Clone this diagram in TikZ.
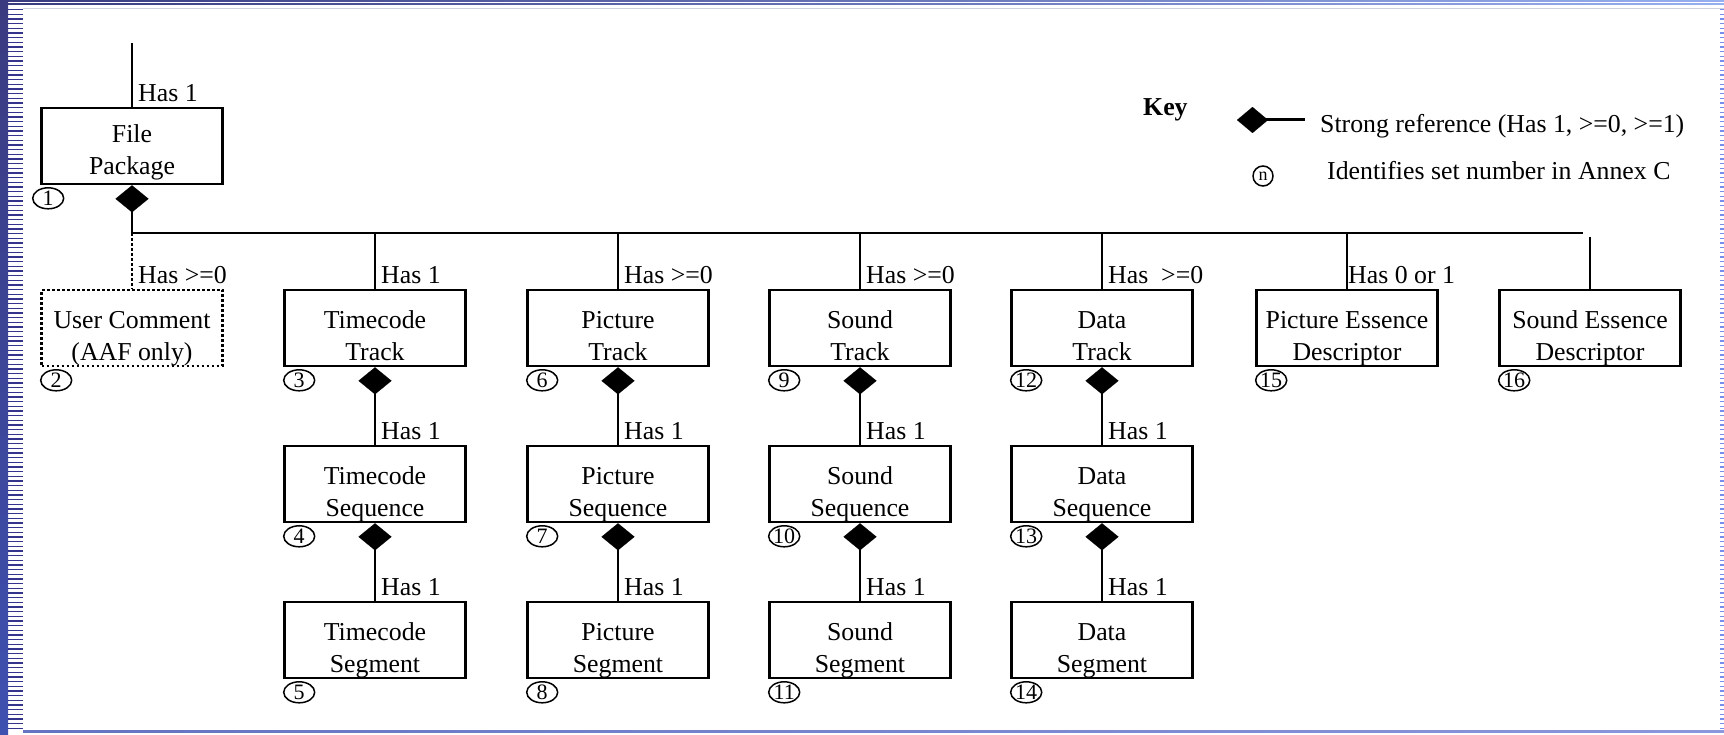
\documentclass[tikz,border=0pt]{standalone}
\usepackage{fontspec}
\setmainfont{Liberation Serif}
\usetikzlibrary{shapes.geometric,arrows.meta}
\definecolor{navy}{RGB}{58,58,128}
\definecolor{barbot}{RGB}{62,80,176}
\definecolor{stripe}{RGB}{52,52,140}
\definecolor{lightb}{RGB}{150,175,240}
\definecolor{dashb}{RGB}{120,140,235}
\definecolor{bottoml}{RGB}{140,150,220}
\definecolor{greyl}{RGB}{205,210,225}
\begin{document}
\begin{tikzpicture}[x=1pt,y=-1pt,
  every node/.style={font=\fontsize{25.8}{31}\selectfont},
  box/.style={draw,line width=2.6pt,minimum width=181pt,minimum height=76pt,inner sep=0pt},
  ubox/.style={box,dash pattern=on 2.6pt off 2.4pt},
  btxt/.style={align=center,inner sep=0pt,text depth=0pt,font=\fontsize{25.8}{32}\selectfont},
  num/.style={draw,ellipse,line width=1.5pt,minimum width=31pt,minimum height=21pt,inner sep=0pt,font=\fontsize{22}{22}\selectfont},
  keynum/.style={draw,circle,line width=1.5pt,minimum size=20pt,inner sep=0pt,font=\fontsize{18}{18}\selectfont},
  lab/.style={anchor=base west,inner sep=0pt},
  conn/.style={line width=2.6pt},
  strong/.style={conn,{Diamond[length=27pt,width=33pt,line width=0.1pt]}-},
]
\useasboundingbox (0,0) rectangle (1724,735);
\fill[white] (0,0) rectangle (1724,735);
% decorative frame
\shade[top color=navy,bottom color=barbot] (0,0) rectangle (8,735);
\foreach \i in {0,...,154} \fill[stripe] (8,{9+4.667*\i}) rectangle (23,{10.2+4.667*\i});
\foreach \i in {0,...,154} \fill[dashb] (1720,{9+4.667*\i}) rectangle (1724,{10.2+4.667*\i});
\shade[left color=navy,right color=lightb] (8,0.6) rectangle (1724,2);
\shade[left color=navy,right color=lightb] (8,3.6) rectangle (1724,5);
\fill[greyl] (23,8.5) rectangle (1724,9.5);
\shade[left color=barbot!80,right color=bottoml] (23,730.3) rectangle (1724,732);

% boxes
\node[box] (fp) at (132,146) {};
\node[ubox] (uc) at (132,328) {};
\node[box] (tt) at (375,328) {};
\node[box] (ts) at (375,484) {};
\node[box] (tg) at (375,640) {};
\node[box] (pt) at (618,328) {};
\node[box] (ps) at (618,484) {};
\node[box] (pg) at (618,640) {};
\node[box] (st) at (860,328) {};
\node[box] (ss) at (860,484) {};
\node[box] (sg) at (860,640) {};
\node[box] (dt) at (1102,328) {};
\node[box] (ds) at (1102,484) {};
\node[box] (dg) at (1102,640) {};
\node[box] (pe) at (1347,328) {};
\node[box] (se) at (1590,328) {};

% box texts
\node[btxt] (fp-t) at ([yshift=-4pt]fp.center) {File\\Package};
\node[btxt] (uc-t) at ([yshift=-8pt]uc.center) {User Comment\\(AAF only)};
\node[btxt] (tt-t) at ([yshift=-8pt]tt.center) {Timecode\\Track};
\node[btxt] (ts-t) at ([yshift=-8pt]ts.center) {Timecode\\Sequence};
\node[btxt] (tg-t) at ([yshift=-8pt]tg.center) {Timecode\\Segment};
\node[btxt] (pt-t) at ([yshift=-8pt]pt.center) {Picture\\Track};
\node[btxt] (ps-t) at ([yshift=-8pt]ps.center) {Picture\\Sequence};
\node[btxt] (pg-t) at ([yshift=-8pt]pg.center) {Picture\\Segment};
\node[btxt] (st-t) at ([yshift=-8pt]st.center) {Sound\\Track};
\node[btxt] (ss-t) at ([yshift=-8pt]ss.center) {Sound\\Sequence};
\node[btxt] (sg-t) at ([yshift=-8pt]sg.center) {Sound\\Segment};
\node[btxt] (dt-t) at ([yshift=-8pt]dt.center) {Data\\Track};
\node[btxt] (ds-t) at ([yshift=-8pt]ds.center) {Data\\Sequence};
\node[btxt] (dg-t) at ([yshift=-8pt]dg.center) {Data\\Segment};
\node[btxt] (pe-t) at ([yshift=-8pt]pe.center) {Picture Essence\\Descriptor};
\node[btxt] (se-t) at ([yshift=-8pt]se.center) {Sound Essence\\Descriptor};

% set numbers
\node[num] (n1) at ([xshift=8pt,yshift=-13pt]fp.south west) {1};
\node[num] (n2) at ([xshift=16pt,yshift=-13pt]uc.south west) {2};
\node[num] (n3) at ([xshift=16pt,yshift=-13pt]tt.south west) {3};
\node[num] (n4) at ([xshift=16pt,yshift=-13pt]ts.south west) {4};
\node[num] (n5) at ([xshift=16pt,yshift=-13pt]tg.south west) {5};
\node[num] (n6) at ([xshift=16pt,yshift=-13pt]pt.south west) {6};
\node[num] (n7) at ([xshift=16pt,yshift=-13pt]ps.south west) {7};
\node[num] (n8) at ([xshift=16pt,yshift=-13pt]pg.south west) {8};
\node[num] (n9) at ([xshift=16pt,yshift=-13pt]st.south west) {9};
\node[num] (n10) at ([xshift=16pt,yshift=-13pt]ss.south west) {10};
\node[num] (n11) at ([xshift=16pt,yshift=-13pt]sg.south west) {11};
\node[num] (n12) at ([xshift=16pt,yshift=-13pt]dt.south west) {12};
\node[num] (n13) at ([xshift=16pt,yshift=-13pt]ds.south west) {13};
\node[num] (n14) at ([xshift=16pt,yshift=-13pt]dg.south west) {14};
\node[num] (n15) at ([xshift=16pt,yshift=-13pt]pe.south west) {15};
\node[num] (n16) at ([xshift=16pt,yshift=-13pt]se.south west) {16};

% connectors
\coordinate (top) at (132,43);
\coordinate (bus) at (132,233);
\coordinate (busend) at (1583,233);
\coordinate (setop) at (1590,237);
\draw[conn] (top) -- (fp.north);
\draw[strong] (fp.south) -- (bus);
\draw[conn] (bus) -- (busend);
\draw[conn,dash pattern=on 2.6pt off 2.4pt] (bus) -- (uc.north);
\foreach \n in {tt,pt,st,dt,pe} \draw[conn] (bus -| \n.north) -- (\n.north);
\draw[conn] (setop) -- (se.north);
\draw[strong] (tt.south) -- (ts.north);
\draw[strong] (ts.south) -- (tg.north);
\draw[strong] (pt.south) -- (ps.north);
\draw[strong] (ps.south) -- (pg.north);
\draw[strong] (st.south) -- (ss.north);
\draw[strong] (ss.south) -- (sg.north);
\draw[strong] (dt.south) -- (ds.north);
\draw[strong] (ds.south) -- (dg.north);

% labels
\node[lab] (l1) at ([xshift=6pt,yshift=5pt]fp.north) {Has 1};
\node[lab] (l2) at ([xshift=6pt,yshift=5pt]uc.north) {Has >=0};
\node[lab] (l3) at ([xshift=6pt,yshift=5pt]tt.north) {Has 1};
\node[lab] (l4) at ([xshift=6pt,yshift=5pt]ts.north) {Has 1};
\node[lab] (l5) at ([xshift=6pt,yshift=5pt]tg.north) {Has 1};
\node[lab] (l6) at ([xshift=6pt,yshift=5pt]pt.north) {Has >=0};
\node[lab] (l7) at ([xshift=6pt,yshift=5pt]ps.north) {Has 1};
\node[lab] (l8) at ([xshift=6pt,yshift=5pt]pg.north) {Has 1};
\node[lab] (l9) at ([xshift=6pt,yshift=5pt]st.north) {Has >=0};
\node[lab] (l10) at ([xshift=6pt,yshift=5pt]ss.north) {Has 1};
\node[lab] (l11) at ([xshift=6pt,yshift=5pt]sg.north) {Has 1};
\node[lab] (l12) at ([xshift=6pt,yshift=5pt]dt.north) {Has\ \ >=0};
\node[lab] (l13) at ([xshift=6pt,yshift=5pt]ds.north) {Has 1};
\node[lab] (l14) at ([xshift=6pt,yshift=5pt]dg.north) {Has 1};
\node[lab] (l15) at ([xshift=1pt,yshift=5pt]pe.north) {Has 0 or 1};

% key
\node[lab,font=\fontsize{25.8}{31}\selectfont\bfseries] (key) at (1143,116) {Key};
\coordinate (kd) at (1237,120);
\coordinate (ke) at (1305,120);
\draw[line width=3pt,{Diamond[length=31pt,width=26pt,line width=0.1pt]}-] (kd) -- (ke);
\node[lab] (ks) at (1320,133) {Strong reference (Has 1, >=0, >=1)};
\node[keynum] (kn) at (1263,176) {n};
\node[lab] (ki) at (1327,180) {Identifies set number in Annex C};
\end{tikzpicture}
\end{document}
